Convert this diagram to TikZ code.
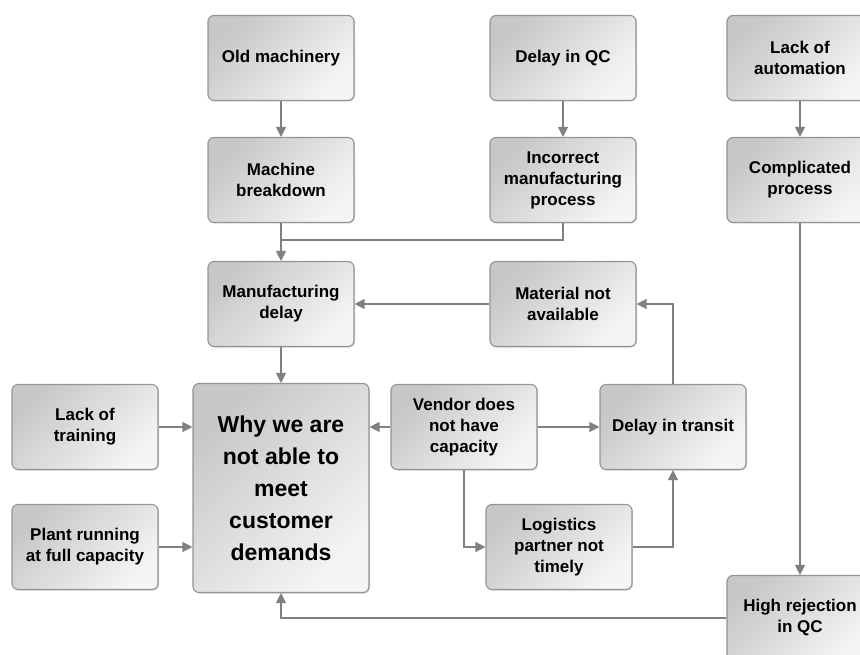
\documentclass[tikz,border=0pt]{standalone}
\usepackage{fontspec}
\setmainfont{Liberation Sans}
\usetikzlibrary{arrows.meta,shadows}

\begin{document}
\begin{tikzpicture}%
        [x=1pt,
        y=-1pt,
        box/.style={draw=black!42, line width=1.1pt, rounded corners=6pt,
            top color=black!22, bottom color=black!4, shading angle=45,
            drop shadow={shadow xshift=1pt, shadow yshift=-1pt, opacity=0.35},
            minimum width=146pt, minimum height=85pt, inner sep=1pt,
            align=center, font=\fontsize{17}{21}\selectfont\bfseries},
        bigbox/.style={box, minimum width=176pt, minimum height=209pt,
            font=\fontsize{23}{32}\selectfont\bfseries},
        edge/.style={color=black!50, line width=1.2pt},
        arr/.style={edge, -{Triangle[length=10pt,width=10pt]}}]
    %
    %% Fixing the page
    \useasboundingbox (0,0) rectangle (860,655);
    %%
    %% Drawing the boxes
    %%
    \node[box] (oldmach)     at (281,58)  {Old machinery};
    \node[box] (delayqc)     at (563,58)  {Delay in QC};
    \node[box] (lackauto)    at (800,58)  {Lack of\\automation};
    \node[box] (machbreak)   at (281,180) {Machine\\breakdown};
    \node[box] (incorrect)   at (563,180) {Incorrect\\manufacturing\\process};
    \node[box] (complicated) at (800,180) {Complicated\\process};
    \node[box] (mfgdelay)    at (281,304) {Manufacturing\\delay};
    \node[box] (material)    at (563,304) {Material not\\available};
    \node[bigbox] (why)      at (281,488) {Why we are\\not able to\\meet\\customer\\demands};
    \node[box] (training)    at (85,427)  {Lack of\\training};
    \node[box] (plant)       at (85,547)  {Plant running\\at full capacity};
    \node[box] (vendor)      at (464,427) {Vendor does\\not have\\capacity};
    \node[box] (transit)     at (673,427) {Delay in transit};
    \node[box] (logistics)   at (559,547) {Logistics\\partner not\\timely};
    \node[box] (rejection)   at (800,618) {High rejection\\in QC};
    %%
    \coordinate (join) at (281,240);
    %%
    %% Drawing the connectors
    %%
    \draw[arr] (oldmach) -- (machbreak);
    \draw[arr] (delayqc) -- (incorrect);
    \draw[arr] (lackauto.south) -- (complicated.north);
    \draw[edge] (machbreak) -- (join);
    \draw[arr] (incorrect.south) |- (join) -- (mfgdelay.north);
    \draw[arr] (material) -- (mfgdelay);
    \draw[arr] (mfgdelay) -- (why);
    \draw[arr] (training.east) -- (training.east -| why.west);
    \draw[arr] (plant.east) -- (plant.east -| why.west);
    \draw[arr] (vendor) -- (why.east |- vendor.west);
    \draw[arr] (vendor) -- (transit);
    \draw[arr] (vendor.south) |- (logistics.west);
    \draw[arr] (logistics.east) -| (transit.south);
    \draw[arr] (transit.north) |- (material.east);
    \draw[arr] (complicated.south) -- (rejection.north);
    \draw[arr] (rejection.west) -| (why.south);
    %%
\end{tikzpicture}
\end{document}
